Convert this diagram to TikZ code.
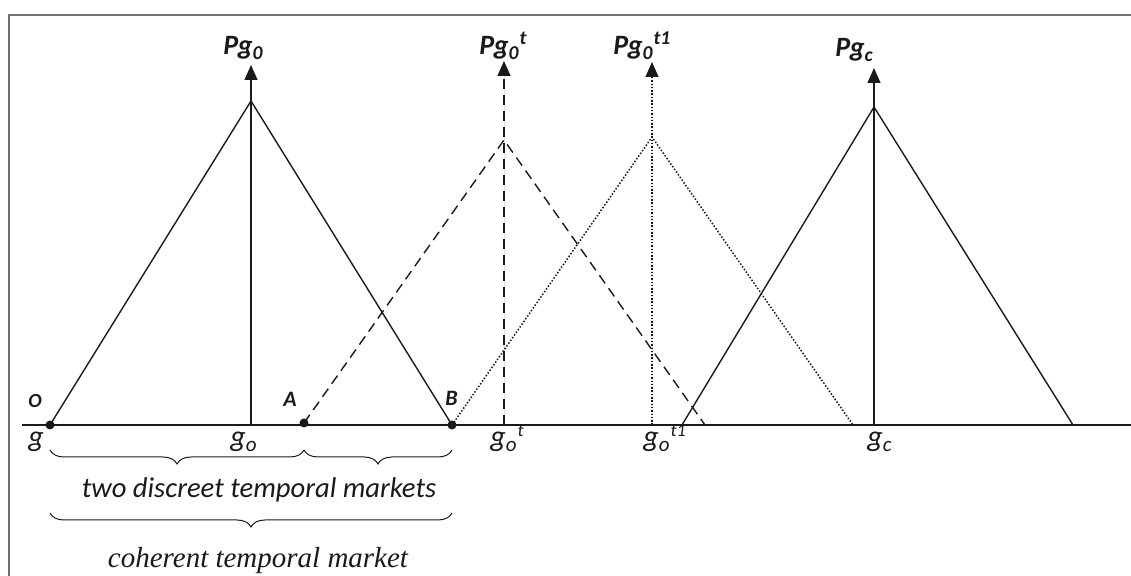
\documentclass[tikz,border=0pt]{standalone}
\usepackage{fontspec}
\setmainfont{Carlito}
\newfontfamily\serifface{Liberation Serif}
\usetikzlibrary{arrows.meta,decorations.pathreplacing}
\definecolor{framegray}{HTML}{707070}
\definecolor{inkblack}{HTML}{1A1A1A}
\newcommand{\gsup}[1]{\raisebox{5pt}{\fontsize{9}{9}\selectfont #1}}
\tikzset{
  >={Triangle[length=7.5pt,width=6.5pt]},
  frameline/.style={draw=framegray, line width=1pt},
  axisline/.style={draw=inkblack, line width=0.75pt},
  solidline/.style={draw=inkblack, line width=0.7pt},
  dashline/.style={draw=inkblack, line width=0.7pt, dash pattern=on 5pt off 3pt},
  dotline/.style={draw=inkblack, line width=0.75pt, dash pattern=on 0.75pt off 0.9pt},
  peakline/.style={->, fill=inkblack},
  dot/.style={circle, fill=inkblack, inner sep=0pt, minimum size=4.5pt},
  ptlabel/.style={anchor=base west, inner sep=0pt, text=inkblack,
    font=\fontsize{11}{13}\selectfont\bfseries\itshape},
  peaklabel/.style={anchor=base west, inner sep=0pt, text=inkblack,
    font=\fontsize{14}{16}\selectfont\bfseries\itshape},
  glabel/.style={anchor=base west, inner sep=0pt, text=inkblack,
    font=\fontsize{15}{17}\selectfont\itshape},
  bracket/.style={draw=inkblack, line width=0.5pt,
    decorate, decoration={brace, mirror, amplitude=7pt}},
  caption/.style={anchor=base, inner sep=0pt, text=inkblack}
}

\begin{document}
\begin{tikzpicture}[x=0.5pt,y=-0.5pt]
  \path[use as bounding box] (0,0) rectangle (1131,576);

  \draw[frameline] (1131,15) -- (9,15) -- (9,576);

  % base line and points
  \coordinate (axisL) at (22,425);
  \coordinate (axisR) at (1131,425);
  \draw[axisline] (axisL) -- (axisR);

  \node[dot] (O) at (50,425) {};
  \node[dot] (A) at (304,423) {};
  \node[dot] (B) at (452,425) {};

  \coordinate (apexO) at (251,101);
  \coordinate (apexT) at (504,140);
  \coordinate (apexTone) at (652,137);
  \coordinate (apexC) at (874,107);

  \coordinate (baseT) at (705,425);
  \coordinate (baseTone) at (853,425);
  \coordinate (leftC) at (682,425);
  \coordinate (baseC) at (1073,425);

  \coordinate (footO) at (251,425);
  \coordinate (footT) at (504,425);
  \coordinate (footTone) at (652,425);
  \coordinate (footC) at (874,425);

  \coordinate (tipO) at (251,65);
  \coordinate (tipT) at (504,61);
  \coordinate (tipTone) at (652,62);
  \coordinate (tipC) at (874,68);

  \draw[solidline] (O.center) -- (apexO) -- (B.center);
  \draw[dashline] (A.center) -- (apexT) -- (baseT);
  \draw[dotline] (B.center) -- (apexTone) -- (baseTone);
  \draw[solidline] (leftC) -- (apexC) -- (baseC);

  \draw[solidline, peakline] (footO) -- (tipO);
  \draw[dashline, peakline] (footT) -- (tipT);
  \draw[dotline, peakline] (footTone) -- (tipTone);
  \draw[solidline, peakline] (footC) -- (tipC);

  % labels
  \node[peaklabel] (pgO) at (223,55) {Pg\textsubscript{0}};
  \node[peaklabel] (pgT) at (479,55) {Pg\textsubscript{0}\textsuperscript{t}};
  \node[peaklabel] (pgTone) at (613,55) {Pg\textsubscript{0}\textsuperscript{t1}};
  \node[peaklabel] (pgC) at (835,57) {Pg\textsubscript{c}};

  \node[ptlabel, font=\fontsize{10}{12}\selectfont\bfseries\itshape] (labO) at (28,408) {O};
  \node[ptlabel] (labA) at (283,407) {A};
  \node[ptlabel] (labB) at (445,406) {B};

  \node[glabel] (gO) at (28,447) {g};
  \node[glabel] (go) at (230,447) {g\textsubscript{o}};
  \node[glabel] (got) at (490,447) {g\textsubscript{o}\gsup{t}};
  \node[glabel] (gotone) at (643,447) {g\textsubscript{o}\gsup{t1}};
  \node[glabel] (gc) at (867,447) {g\textsubscript{c}};

  % braces
  \coordinate (brO) at (50,450);
  \coordinate (brA) at (304,450);
  \coordinate (brB) at (452,450);
  \coordinate (wideO) at (50,513);
  \coordinate (wideB) at (452,513);
  \draw[bracket] (brO) -- (brA);
  \draw[bracket] (brA) -- (brB);
  \draw[bracket] (wideO) -- (wideB);

  \node[caption, font=\fontsize{14.3}{17}\selectfont\itshape] (twoMarkets) at (259,498)
    {two discreet temporal markets};
  \node[caption, font=\serifface\itshape\fontsize{14.5}{17}\selectfont] (oneMarket) at (258,568)
    {coherent temporal market};
\end{tikzpicture}
\end{document}
